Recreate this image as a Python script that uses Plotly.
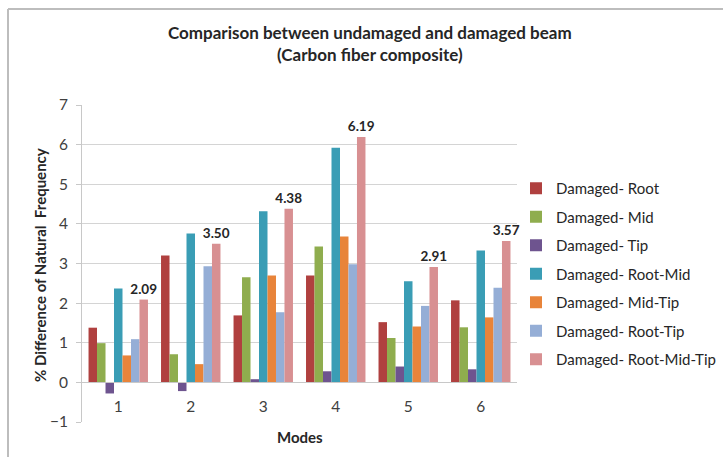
import plotly.graph_objects as go

modes = ["1", "2", "3", "4", "5", "6"]
series_names = ["Damaged- Root", "Damaged- Mid", "Damaged- Tip", "Damaged- Root-Mid",
                "Damaged- Mid-Tip", "Damaged- Root-Tip", "Damaged- Root-Mid-Tip"]
root = [1.38, 3.20, 1.69, 2.70, 1.52, 2.07]
mid = [0.99, 0.71, 2.65, 3.43, 1.12, 1.39]
tip = [-0.28, -0.22, 0.08, 0.28, 0.40, 0.33]
root_mid = [2.37, 3.76, 4.32, 5.92, 2.55, 3.33]
mid_tip = [0.68, 0.46, 2.70, 3.68, 1.41, 1.64]
root_tip = [1.09, 2.93, 1.77, 2.98, 1.93, 2.39]
root_mid_tip = [2.09, 3.50, 4.38, 6.19, 2.91, 3.57]
colors = ["#B0403F", "#8FAD4E", "#6E548F", "#3A9DB5", "#E8843A", "#95AED6", "#D89092"]

all_series = [root, mid, tip, root_mid, mid_tip, root_tip, root_mid_tip]

FONT = "Lato"
W, H = 723, 457
L, R, T, B = 82, 206, 105, 35
pw, ph = W - L - R, H - T - B

def px_x(px):
    return (px - L) / pw

def px_y(py):
    return (H - B - py) / ph

fig = go.Figure()
for i, (name, vals, col) in enumerate(zip(series_names, all_series, colors)):
    kw = {}
    if i == len(series_names) - 1:
        kw = dict(text=[f"{v:.2f}" for v in vals], textposition="outside", textangle=0,
                  constraintext="none",
                  textfont=dict(family=FONT, size=13.5, color="#262626", weight="bold"),
                  cliponaxis=False)
    fig.add_trace(go.Bar(x=modes, y=vals, name=name, marker=dict(color=col, line=dict(width=0)),
                         legendgroup=name, **kw))

fig.update_layout(
    width=W, height=H,
    margin=dict(l=L, r=R, t=T, b=B, autoexpand=False),
    paper_bgcolor="white", plot_bgcolor="white",
    barmode="group", bargap=0.18, bargroupgap=0,
    font=dict(family=FONT, color="#404040"),
    showlegend=True,
    legend=dict(x=px_x(516), y=px_y(172), xanchor="left", yanchor="top",
                font=dict(family=FONT, size=15, color="#262626"),
                tracegroupgap=6, bgcolor="rgba(0,0,0,0)"),
    xaxis=dict(anchor="free", position=0.125, showline=True, linecolor="#c8c8c8", linewidth=1,
               ticks="", tickfont=dict(family=FONT, size=15.5, color="#404040"), showgrid=False,
               ticklabelstandoff=10),
    yaxis=dict(range=[-1, 7], dtick=1, showgrid=True, gridcolor="#d4d4d4", gridwidth=1,
               showline=True, linecolor="#c8c8c8", ticks="outside", ticklen=5, tickcolor="#c8c8c8",
               tickfont=dict(family=FONT, size=15.5, color="#404040"), zeroline=False,
               ticklabelstandoff=5),
)

fig.add_annotation(text="Comparison between undamaged and damaged beam<br>(Carbon fiber composite)",
                   xref="paper", yref="paper", x=px_x(370), y=px_y(43), showarrow=False,
                   font=dict(family=FONT, size=17, color="#262626", weight="bold"),
                   xanchor="center", yanchor="middle")
fig.add_annotation(text="Modes", xref="paper", yref="paper", x=px_x(300), y=px_y(437),
                   showarrow=False, font=dict(family=FONT, size=15, color="#262626", weight="bold"),
                   xanchor="center", yanchor="middle")
fig.add_annotation(text="% Difference of Natural  Frequency", xref="paper", yref="paper",
                   x=px_x(40), y=px_y(265), showarrow=False, textangle=-90,
                   font=dict(family=FONT, size=15, color="#262626", weight="bold"),
                   xanchor="center", yanchor="middle")

fig.add_shape(type="line", xref="paper", yref="paper", x0=px_x(8), x1=px_x(723), y0=px_y(9), y1=px_y(9),
              line=dict(color="#bdbdbd", width=2))
fig.add_shape(type="line", xref="paper", yref="paper", x0=px_x(8), x1=px_x(8), y0=px_y(9), y1=px_y(457),
              line=dict(color="#bdbdbd", width=2))

fig.write_html("out.html")
